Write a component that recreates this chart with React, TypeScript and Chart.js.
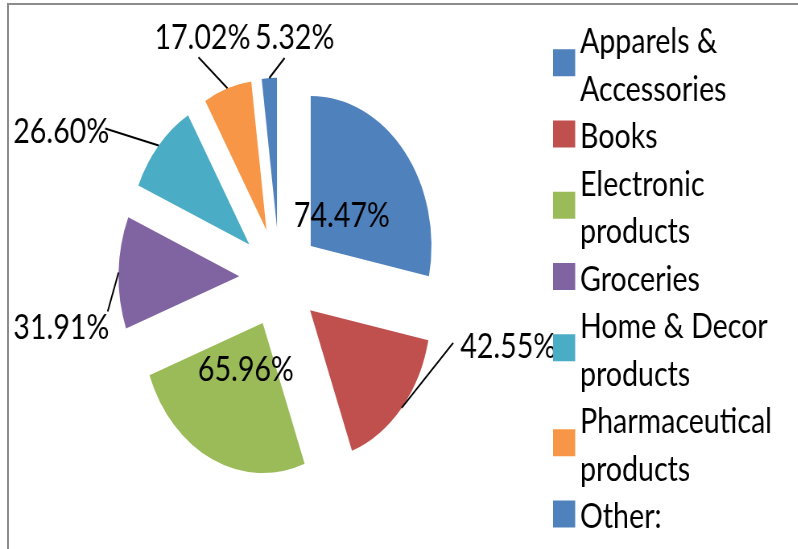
import React, { useEffect, useRef } from 'react';
import { Chart, registerables } from 'chart.js';

Chart.register(...registerables);

// ---- data ----
const categories = [
  'Apparels & Accessories',
  'Books',
  'Electronic products',
  'Groceries',
  'Home & Decor products',
  'Pharmaceutical products',
  'Other:',
];
const shares = [74.47, 42.55, 65.96, 31.91, 26.6, 17.02, 5.32];
const sliceColors = ['#4F81BD', '#C0504D', '#9BBB59', '#8064A2', '#4BACC6', '#F79646', '#4F81BD'];

// ---- label styling (leader line end offset from slice edge, text offset from line end) ----
type LabelStyle = { mode: 'inside' } | { mode: 'outside'; dx: number; dy: number; tx: number; ty: number; align: CanvasTextAlign };
const labelStyles: LabelStyle[] = [
  { mode: 'inside' },
  { mode: 'outside', dx: 64, dy: -65, tx: 8.8, ty: 15, align: 'left' },
  { mode: 'inside' },
  { mode: 'outside', dx: -13.5, dy: 39, tx: 2, ty: 27, align: 'right' },
  { mode: 'outside', dx: -66.5, dy: -17, tx: 5, ty: 15, align: 'right' },
  { mode: 'outside', dx: -36, dy: -31, tx: 5, ty: -8, align: 'center' },
  { mode: 'outside', dx: 19, dy: -20, tx: 12.5, ty: -9, align: 'center' },
];

// ---- layout constants ----
const SX = 0.805; // horizontal squeeze of the original picture
const W = 798;
const H = 549;
const CW = Math.round(W / SX);
const EXPLODE = 50;
const RADIUS = 150;
const CENTER_X = 347.2;
const CENTER_Y = 277.6;
const FONT = '35.5px Lato';
const CAP = 12.8; // half cap height
const LEG_BOX_X = 687;
const LEG_BOX_W = 27.5;
const LEG_TEXT_X = 720.5;
const LEG_FIRST_BASELINE = 53;
const LEG_PITCH = 47.5;
const LEG_MAXW = 267;

const explodePlugin = {
  id: 'explodeSlices',
  afterDatasetUpdate(chart: any, args: any) {
    const meta = chart.getDatasetMeta(args.index);
    meta.data.forEach((arc: any) => {
      const mid = (arc.startAngle + arc.endAngle) / 2;
      arc.x += Math.cos(mid) * EXPLODE;
      arc.y += Math.sin(mid) * EXPLODE;
    });
  },
};

const labelPlugin = {
  id: 'sliceLabels',
  afterDatasetsDraw(chart: any) {
    const ctx: CanvasRenderingContext2D = chart.ctx;
    const meta = chart.getDatasetMeta(0);
    const values: number[] = chart.data.datasets[0].data;
    ctx.save();
    ctx.font = FONT;
    ctx.fillStyle = '#000';
    ctx.strokeStyle = '#000';
    ctx.lineWidth = 2;
    ctx.textBaseline = 'alphabetic';
    meta.data.forEach((arc: any, i: number) => {
      const mid = (arc.startAngle + arc.endAngle) / 2;
      const r = arc.outerRadius;
      const text = `${values[i].toFixed(2)}%`;
      const st = labelStyles[i];
      if (st.mode === 'inside') {
        const x = arc.x + Math.cos(mid) * r / 3;
        const y = arc.y + Math.sin(mid) * r / 3;
        ctx.textAlign = 'center';
        ctx.fillText(text, x, y + CAP);
      } else {
        const sx = arc.x + Math.cos(mid) * r;
        const sy = arc.y + Math.sin(mid) * r;
        const ex = sx + st.dx;
        const ey = sy + st.dy;
        ctx.beginPath();
        ctx.moveTo(sx, sy);
        ctx.lineTo(ex, ey);
        ctx.stroke();
        ctx.textAlign = st.align;
        ctx.fillText(text, ex + st.tx, ey + st.ty);
      }
    });
    ctx.restore();
  },
};

function wrapText(ctx: CanvasRenderingContext2D, text: string, maxW: number): string[] {
  const words = text.split(' ');
  const lines: string[] = [];
  let cur = '';
  words.forEach((w) => {
    const test = cur ? cur + ' ' + w : w;
    if (cur && ctx.measureText(test).width > maxW) {
      lines.push(cur);
      cur = w;
    } else {
      cur = test;
    }
  });
  if (cur) lines.push(cur);
  return lines;
}

const legendPlugin = {
  id: 'sideLegend',
  afterDraw(chart: any) {
    const ctx: CanvasRenderingContext2D = chart.ctx;
    const labels: string[] = chart.data.labels;
    const bg: string[] = chart.data.datasets[0].backgroundColor;
    ctx.save();
    ctx.font = FONT;
    ctx.textAlign = 'left';
    ctx.textBaseline = 'alphabetic';
    let baseline = LEG_FIRST_BASELINE;
    labels.forEach((lab, i) => {
      const lines = wrapText(ctx, lab, LEG_MAXW);
      const last = baseline + (lines.length - 1) * LEG_PITCH;
      const midY = (baseline + last) / 2 - 14;
      ctx.fillStyle = bg[i];
      ctx.fillRect(LEG_BOX_X, midY - 13.5, LEG_BOX_W, 27);
      ctx.fillStyle = '#000';
      lines.forEach((ln, j) => ctx.fillText(ln, LEG_TEXT_X, baseline + j * LEG_PITCH));
      baseline = last + LEG_PITCH;
    });
    ctx.restore();
  },
};

export default function App() {
  const canvasRef = useRef<HTMLCanvasElement | null>(null);

  useEffect(() => {
    const canvas = canvasRef.current;
    if (!canvas) return;
    const chart = new Chart(canvas, {
      type: 'pie',
      data: {
        labels: categories,
        datasets: [
          {
            data: shares,
            backgroundColor: sliceColors,
            borderWidth: 0,
          },
        ],
      },
      options: {
        responsive: false,
        animation: false,
        events: [],
        radius: RADIUS,
        layout: {
          padding: {
            left: 0,
            top: CENTER_Y * 2 - H,
            right: CW - CENTER_X * 2,
            bottom: 0,
          },
        },
        plugins: {
          legend: { display: false },
          tooltip: { enabled: false },
        },
      } as any,
      plugins: [explodePlugin, labelPlugin, legendPlugin],
    });
    return () => chart.destroy();
  }, []);

  return (
    <div style={{ position: 'fixed', left: 0, top: 0, width: W, height: H, overflow: 'hidden', background: '#fff' }}>
      <div style={{ position: 'absolute', left: 0, top: 0, width: CW, height: H, transform: `scaleX(${SX})`, transformOrigin: '0 0' }}>
        <canvas ref={canvasRef} width={CW} height={H} />
      </div>
      <div
        style={{
          position: 'absolute',
          left: 7,
          top: 3,
          width: W,
          height: H,
          borderLeft: '2px solid #8c8c8c',
          borderTop: '2px solid #8c8c8c',
          pointerEvents: 'none',
        }}
      />
    </div>
  );
}
